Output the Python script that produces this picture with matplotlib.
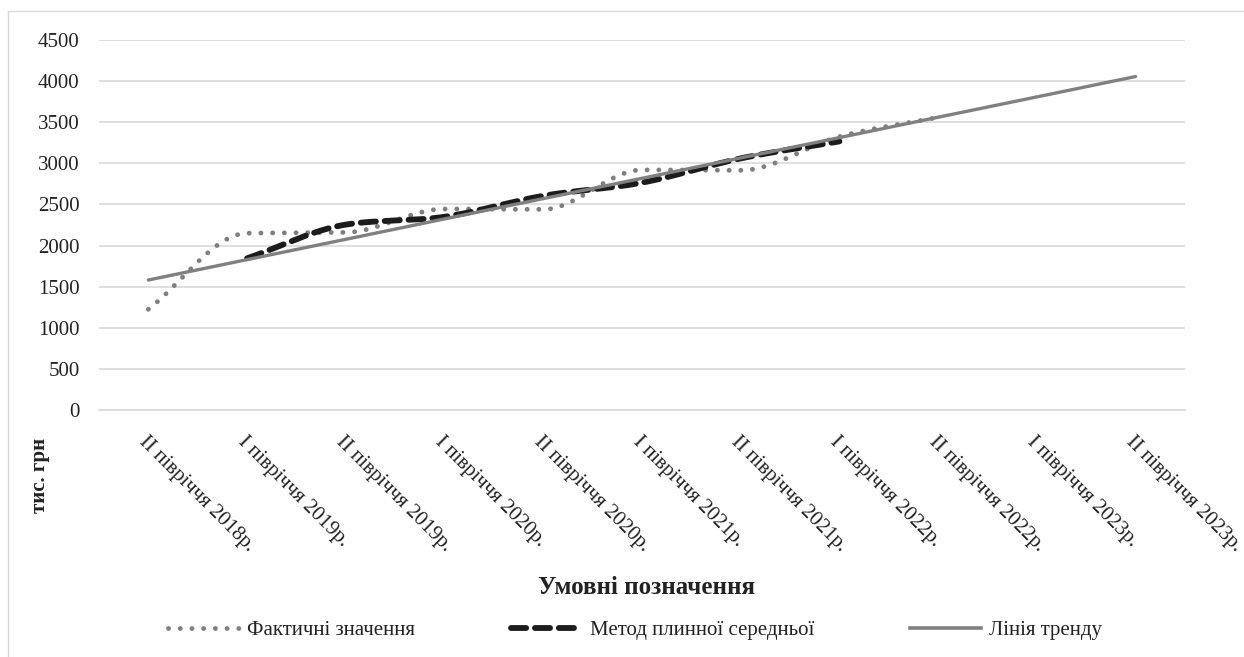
import numpy as np
import matplotlib
matplotlib.use("Agg")
import matplotlib.pyplot as plt
from matplotlib.lines import Line2D

plt.rcParams['font.family'] = ['Liberation Serif', 'DejaVu Serif']

# дані
periods = ["II півріччя 2018р.", "I півріччя 2019р.", "II півріччя 2019р.",
           "I півріччя 2020р.", "II півріччя 2020р.", "I півріччя 2021р.",
           "II півріччя 2021р.", "I півріччя 2022р.", "II півріччя 2022р.",
           "I півріччя 2023р.", "II півріччя 2023р."]
actual = [1225, 2150, 2160, 2445, 2440, 2920, 2915, 3325, 3560]
moving_avg = [1845, 2255, 2350, 2605, 2765, 3060, 3267]   # з I півріччя 2019р.
trend = [1581, 1829, 2076, 2324, 2571, 2818, 3066, 3313, 3561, 3808, 4056]
yticks = [0, 500, 1000, 1500, 2000, 2500, 3000, 3500, 4000, 4500]


def smooth(xs, ys, n=30):
    # монотонна кубічна крива (метод Стеффена)
    x = np.asarray(xs, float)
    y = np.asarray(ys, float)
    h = np.diff(x)
    s = np.diff(y) / h
    m = np.zeros(len(x))
    for i in range(1, len(x) - 1):
        p = (s[i - 1] * h[i] + s[i] * h[i - 1]) / (h[i - 1] + h[i])
        m[i] = (np.sign(s[i - 1]) + np.sign(s[i])) * min(abs(s[i - 1]), abs(s[i]), 0.5 * abs(p))
    m[0] = s[0]
    m[-1] = s[-1]
    px, py = [], []
    for i in range(len(x) - 1):
        t = np.linspace(0, 1, n)
        h00 = 2 * t ** 3 - 3 * t ** 2 + 1
        h10 = t ** 3 - 2 * t ** 2 + t
        h01 = -2 * t ** 3 + 3 * t ** 2
        h11 = t ** 3 - t ** 2
        seg = h00 * y[i] + h10 * h[i] * m[i] + h01 * y[i + 1] + h11 * h[i] * m[i + 1]
        px.extend(list(x[i] + t * h[i])[(i > 0):])
        py.extend(list(seg)[(i > 0):])
    return np.array(px), np.array(py)


fig = plt.figure(figsize=(12.44, 6.57), dpi=100)
ax = fig.add_axes([99 / 1244, 1 - 410 / 657, (1185 - 99) / 1244, 370 / 657])

x_all = np.arange(len(periods))
xa, ya = smooth(x_all[:len(actual)], actual)
ax.plot(xa, ya, color='#7f7f7f', lw=3.5, linestyle=(0, (0.01, 2.4)),
        dash_capstyle='round', zorder=3)
xm, ym = smooth(x_all[1:1 + len(moving_avg)], moving_avg)
ax.plot(xm, ym, color='#1c1c1c', lw=4.2, linestyle=(0, (2.6, 1.5)),
        dash_capstyle='round', zorder=4)
ax.plot(x_all, trend, color='#808080', lw=2.4, solid_capstyle='round', zorder=5)

ax.set_xlim(-0.5, len(periods) - 0.5)
ax.set_ylim(0, 4500)
ax.set_yticks(yticks)
ax.yaxis.grid(True, color='#d9d9d9', lw=1.2)
ax.set_axisbelow(True)
for s in ['top', 'right', 'left']:
    ax.spines[s].set_visible(False)
ax.spines['bottom'].set_color('#d9d9d9')
ax.spines['bottom'].set_linewidth(1.2)
ax.tick_params(axis='y', length=0, pad=14, labelsize=15, labelcolor='#222222')
ax.tick_params(axis='x', length=0, pad=16, labelsize=15, labelcolor='#222222')
ax.set_xticks(x_all)
ax.set_xticklabels(periods, rotation=-45, ha='left', va='top', rotation_mode='anchor')

fig.text(40 / 1244, 1 - 475 / 657, 'тис. грн', rotation=90, fontsize=15,
         fontweight='bold', ha='center', va='center', color='#222222')
fig.text(647 / 1244, 1 - 588 / 657, 'Умовні позначення', fontsize=18,
         fontweight='bold', ha='center', va='center', color='#222222')

handles = [
    Line2D([], [], color='#7f7f7f', lw=3.5, linestyle=(0, (0.01, 2.4)), dash_capstyle='round'),
    Line2D([], [], color='#1c1c1c', lw=4.2, linestyle=(0, (2.6, 1.5)), dash_capstyle='round'),
    Line2D([], [], color='#808080', lw=2.6),
]
labels = ['Фактичні значення', 'Метод плинної середньої', 'Лінія тренду']
fig.legend(handles, labels, loc='center', bbox_to_anchor=(635 / 1244, 1 - 630 / 657),
           ncol=3, frameon=False, fontsize=15, handlelength=3.4, handletextpad=0.4,
           columnspacing=4.6, labelcolor='#222222')

# рамка діаграми
fig.add_artist(Line2D([8 / 1244, 8 / 1244], [0, 1 - 11 / 657], color='#d9d9d9', lw=1.0))
fig.add_artist(Line2D([8 / 1244, 1], [1 - 11 / 657, 1 - 11 / 657], color='#d9d9d9', lw=1.0))

fig.savefig('out.png', dpi=100)
